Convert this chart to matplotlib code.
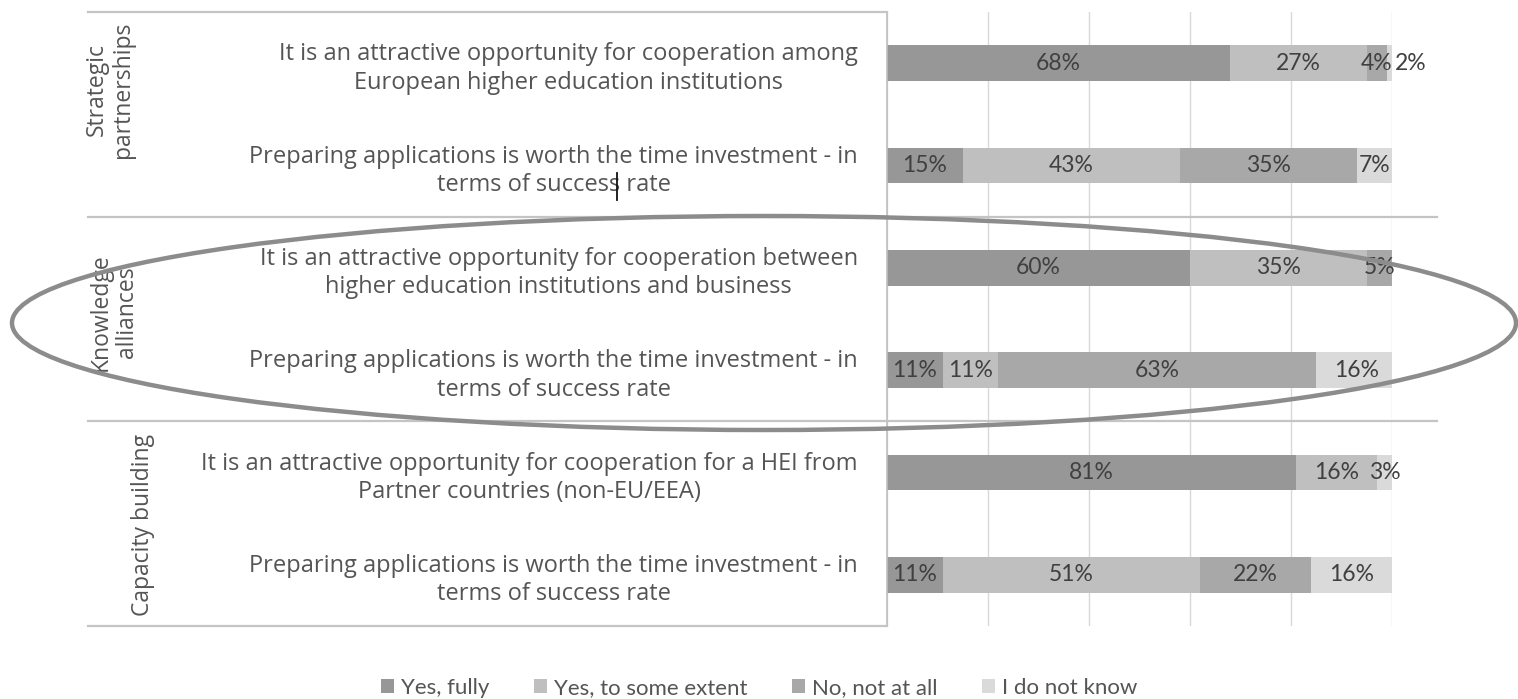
import matplotlib
matplotlib.use("Agg")
import matplotlib.pyplot as plt
from matplotlib.patches import Patch, Ellipse
from matplotlib.lines import Line2D
from matplotlib.transforms import blended_transform_factory

# ---- data ----
row_labels = [
    "It is an attractive opportunity for cooperation among\nEuropean higher education institutions",
    "Preparing applications is worth the time investment - in\nterms of success rate",
    "It is an attractive opportunity for cooperation between\nhigher education institutions and business",
    "Preparing applications is worth the time investment - in\nterms of success rate",
    "It is an attractive opportunity for cooperation for a HEI from\nPartner countries (non-EU/EEA)",
    "Preparing applications is worth the time investment - in\nterms of success rate",
]
groups = ["Strategic\npartnerships", "Knowledge\nalliances", "Capacity building"]
series_names = ["Yes, fully", "Yes, to some extent", "No, not at all", "I do not know"]
yes_fully = [68, 15, 60, 11, 81, 11]
yes_some = [27, 43, 35, 11, 16, 51]
no_not_at_all = [4, 35, 5, 63, 0, 22]
dont_know = [2, 7, 0, 16, 3, 16]
series = [yes_fully, yes_some, no_not_at_all, dont_know]
colors = ["#979797", "#bfbfbf", "#a8a8a8", "#dadada"]

W, H = 1518, 699
fig = plt.figure(figsize=(W / 100, H / 100), dpi=100)
fig.patch.set_facecolor("white")

def fx(px):
    return px / W

def fy(py):
    return 1 - py / H

ax = fig.add_axes([fx(887), fy(626), fx(1392) - fx(887), fy(12) - fy(626)])

label_font = ["Open Sans", "DejaVu Sans"]
num_font = ["Lato", "DejaVu Sans"]
text_color = "#555555"
val_color = "#404040"

n = len(row_labels)
ys = list(range(n))
left = [0] * n
for k, (vals, col, name) in enumerate(zip(series, colors, series_names)):
    ax.barh(ys, vals, left=left, height=0.35, color=col, label=name, zorder=2)
    for i, v in enumerate(vals):
        if v <= 0:
            continue
        end = left[i] + v
        is_last = all(s[i] == 0 for s in series[k + 1:])
        if v < 3 and is_last:
            ax.text(end - 0.5, i, f"{v}%", ha="left", va="center",
                    fontsize=16.5, family=num_font, color=val_color, zorder=3)
        else:
            ax.text(left[i] + v / 2, i, f"{v}%", ha="center", va="center",
                    fontsize=16.5, family=num_font, color=val_color, zorder=3)
    left = [l + v for l, v in zip(left, vals)]

ax.set_xlim(0, 100)
ax.set_ylim(n - 0.5, -0.5)
ax.set_xticks([0, 20, 40, 60, 80, 100])
ax.set_xticklabels([])
ax.tick_params(axis="x", length=0)
ax.grid(axis="x", color="#d9d9d9", linewidth=1, zorder=0)
ax.set_axisbelow(True)
for s in ["top", "right", "bottom"]:
    ax.spines[s].set_visible(False)
ax.spines["left"].set_color("#bfbfbf")
ax.spines["left"].set_linewidth(1.2)

ax.set_yticks(ys)
ax.set_yticklabels(row_labels, family=label_font, fontsize=17, color=text_color,
                   multialignment="center", linespacing=1.25)
ax.tick_params(axis="y", length=0, pad=21)

# group separators
tr = blended_transform_factory(fig.transFigure, ax.transData)
bounds = [-0.5, 1.5, 3.5, 5.5]
for b in bounds:
    x_end = fx(887) if b in (-0.5, 5.5) else fx(1437)
    fig.add_artist(Line2D([fx(88), x_end], [b, b], transform=tr,
                          color="#c4c4c4", linewidth=1.6, clip_on=False))

# group labels (rotated)
group_pos = [(110, 90), (114, 312), (143, 525)]
for g, (gx, gy) in zip(groups, group_pos):
    fig.text(fx(gx), fy(gy), g, rotation=90, ha="center", va="center",
             family=label_font, fontsize=16.5, color=text_color,
             multialignment="center", linespacing=1.1)

# text-cursor artifact
fig.add_artist(Line2D([fx(617), fx(617)], [fy(173), fy(200)],
                      transform=fig.transFigure, color="#111111", linewidth=1.3))

# hand-drawn ellipse
fig.add_artist(Ellipse((fx(764), fy(323)), width=1504 / W, height=214 / H,
                       transform=fig.transFigure, fill=False,
                       edgecolor="#8c8c8c", linewidth=3.2, zorder=10))

# legend
handles = [Patch(facecolor=c, edgecolor="none") for c in colors]
leg = fig.legend(handles, series_names, loc="center", bbox_to_anchor=(fx(759), fy(688)),
                 ncol=4, frameon=False, handlelength=0.6, handleheight=0.6,
                 handletextpad=0.3, columnspacing=2.0,
                 prop={"family": num_font, "size": 16})
for t in leg.get_texts():
    t.set_color(text_color)

fig.savefig("out.png", dpi=100, facecolor="white")
